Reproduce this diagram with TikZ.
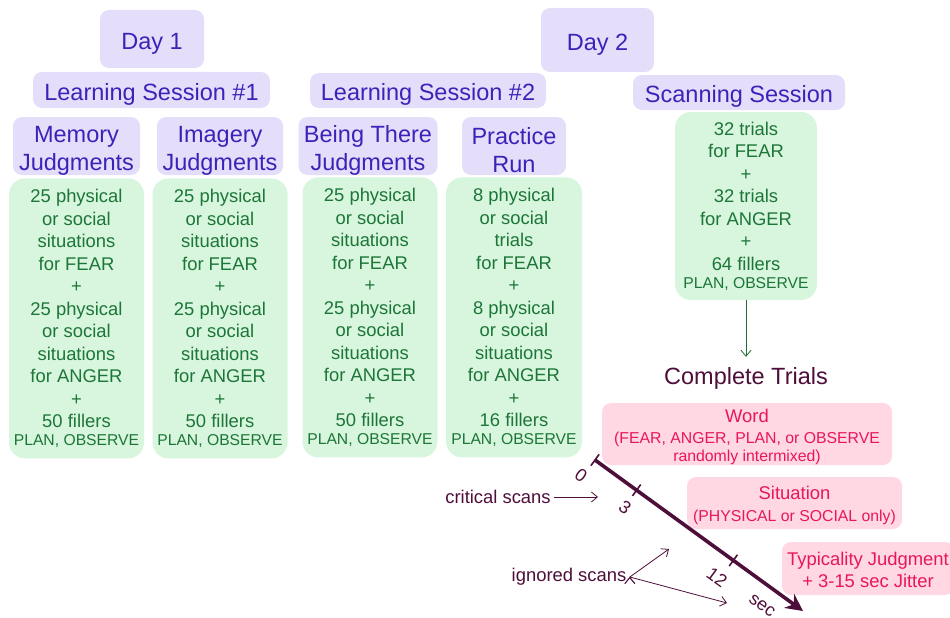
\documentclass[tikz,border=0pt]{standalone}
\usepackage{fontspec}
\setmainfont{Liberation Sans}
\usetikzlibrary{positioning,calc,arrows.meta}
\definecolor{headfill}{RGB}{228,222,250}
\definecolor{headtext}{RGB}{62,34,184}
\definecolor{listfill}{RGB}{216,245,221}
\definecolor{listtext}{RGB}{28,118,56}
\definecolor{cuefill}{RGB}{255,216,228}
\definecolor{cuetext}{RGB}{232,22,92}
\definecolor{scanline}{RGB}{78,14,58}
\definecolor{arrowgreen}{RGB}{30,110,50}
\newcommand{\uptext}[1]{\rule{0pt}{#1}}

\begin{document}
\begin{tikzpicture}[x=1pt,y=-1pt,
    head node/.style={rectangle,rounded corners=9pt,fill=headfill,text=headtext,font=\fontsize{23.5}{28}\selectfont,align=center,inner sep=0pt},
    list node/.style={rectangle,rounded corners=16pt,fill=listfill,text=listtext,font=\fontsize{18.4}{22.5}\selectfont,align=center,inner sep=0pt,minimum width=135pt,minimum height=280pt},
    cue node/.style={rectangle,rounded corners=9pt,fill=cuefill,text=cuetext,font=\fontsize{15.8}{18}\selectfont,align=center,inner sep=0pt},
    scan label/.style={text=scanline,font=\fontsize{18.4}{22}\selectfont},
    tick label/.style={text=scanline,font=\fontsize{18}{20}\selectfont,rotate=-36},
    scan arrow/.style={draw=scanline,line width=0.8pt,-{Straight Barb[length=6pt,width=10pt]}}]

    \useasboundingbox (0,0) rectangle (950,618);

    % headings
    \node[head node][minimum width=104pt,minimum height=58pt](day1) at (152,39){\uptext{25pt}Day 1};
    \node[head node][minimum width=237pt,minimum height=36pt](ls1) at (151.5,90){\uptext{25pt}Learning Session \#1};
    \node[head node][minimum width=127pt,minimum height=58pt](mem) at (76.5,146){\uptext{25pt}Memory\\Judgments};
    \node[head node][minimum width=126pt,minimum height=58pt](img) at (220,146){\uptext{25pt}Imagery\\Judgments};
    \node[head node][minimum width=236pt,minimum height=35pt](ls2) at (428,90.5){\uptext{25pt}Learning Session \#2};
    \node[head node][minimum width=139pt,minimum height=58pt](there) at (368,146){\uptext{25pt}Being There\\Judgments};
    \node[head node][minimum width=104pt,minimum height=58pt](practice) at (514,146){\uptext{25pt}Practice\\Run};
    \node[head node][minimum width=113pt,minimum height=64pt](day2) at (597.5,40){\uptext{25pt}Day 2};
    \node[head node][minimum width=212pt,minimum height=35pt](scan) at (739,92.5){\uptext{25pt}Scanning Session};

    % trial lists
    \node[list node][below = 3pt of mem](memlist){25 physical\\or social\\situations\\for FEAR\\+\\25 physical\\or social\\situations\\for ANGER\\+\\50 fillers\\[-4.5pt]{\fontsize{15.7}{18}\selectfont PLAN, OBSERVE}};
    \node[list node][below = 3pt of img](imglist){25 physical\\or social\\situations\\for FEAR\\+\\25 physical\\or social\\situations\\for ANGER\\+\\50 fillers\\[-4.5pt]{\fontsize{15.7}{18}\selectfont PLAN, OBSERVE}};
    \node[list node][below = 2pt of there,xshift=2pt](therelist){25 physical\\or social\\situations\\for FEAR\\+\\25 physical\\or social\\situations\\for ANGER\\+\\50 fillers\\[-4.5pt]{\fontsize{15.7}{18}\selectfont PLAN, OBSERVE}};
    \node[list node][below = 2pt of practice,minimum width=136pt](practicelist){8 physical\\or social\\trials\\for FEAR\\+\\8 physical\\or social\\situations\\for ANGER\\+\\16 fillers\\[-4.5pt]{\fontsize{15.7}{18}\selectfont PLAN, OBSERVE}};
    \node[list node][minimum width=142pt,minimum height=188pt](scanlist) at (746,206){32 trials\\for FEAR\\+\\32 trials\\for ANGER\\+\\64 fillers\\[-4.5pt]{\fontsize{15.7}{18}\selectfont PLAN, OBSERVE}};

    \node[text=scanline,font=\fontsize{23.5}{28}\selectfont,inner sep=2pt](trials) at (746,378){Complete Trials};
    \path [draw=arrowgreen,line width=0.8pt,-{Straight Barb[length=6pt,width=10pt]},shorten >=8pt] (scanlist) edge (trials);

    % trial events
    \node[cue node][minimum width=290pt,minimum height=62pt](word) at (747,434){{\fontsize{18.4}{20}\selectfont\uptext{19.5pt}Word}\\[3pt](FEAR, ANGER, PLAN, or OBSERVE\\randomly intermixed)};
    \node[cue node][minimum width=215pt,minimum height=52pt](situation) at (794.5,503){{\fontsize{18.4}{20}\selectfont\uptext{19pt}Situation}\\[4pt](PHYSICAL or SOCIAL only)};
    \node[cue node][minimum width=172pt,minimum height=53pt,font=\fontsize{18.4}{22}\selectfont](judgment) at (868,568.5){\uptext{15.5pt}Typicality Judgment\\+ 3-15 sec Jitter};

    % time line
    \coordinate (t0) at (595,460);
    \coordinate (tend) at (803,611);
    \coordinate (t3) at ($(t0)!0.2!(tend)$);
    \coordinate (t12) at ($(t0)!0.665!(tend)$);
    \draw[draw=scanline,line width=3.6pt,-{Stealth[length=17pt,width=17pt]}] (t0) -- (tend);
    \foreach \t in {t0,t3,t12}
        \draw[draw=scanline,line width=1.6pt] ($(\t)!7pt!90:(tend)$) -- ($(\t)!7pt!-90:(tend)$);
    \node[tick label](l0) at (581,475){0};
    \node[tick label](l3) at (625,507){3};
    \node[tick label](l12) at (717,577){12};
    \node[tick label](lsec) at (762,606){sec};

    \node[scan label](critical) at (498,497){critical scans};
    \coordinate (critend) at (598,497);
    \node[scan label](ignored) at (569,577){ignored scans};
    \coordinate (ignup) at (669,549);
    \coordinate (igndown) at (727,603);
    \path [scan arrow] (critical) edge (critend);
    \path [scan arrow] (ignored.east) edge (ignup);
    \path [scan arrow] (ignored.east) edge (igndown);

\end{tikzpicture}
\end{document}
